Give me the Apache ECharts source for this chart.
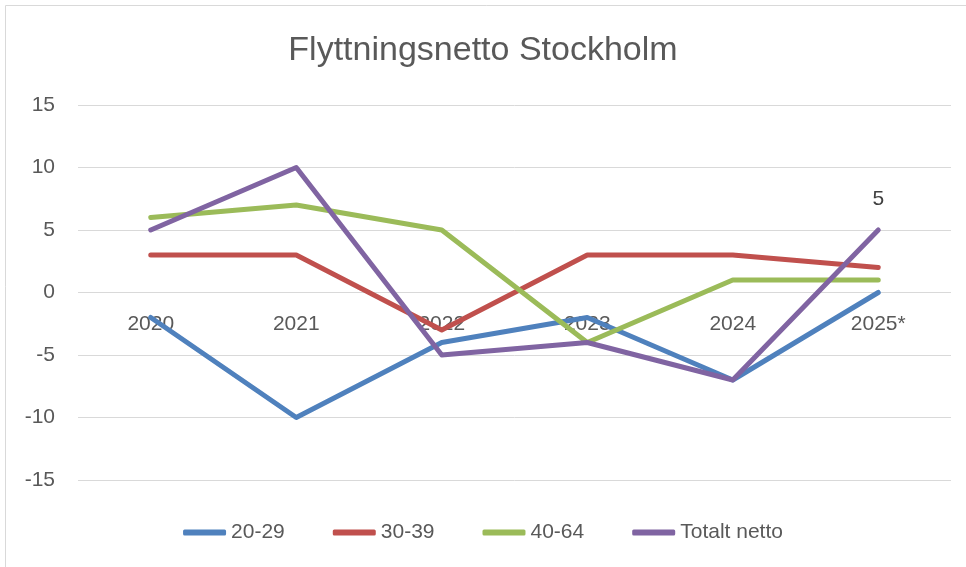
<!DOCTYPE html>
<html>
<head>
<meta charset="utf-8">
<script src="https://cdn.jsdelivr.net/npm/echarts@6/dist/echarts.min.js"></script>
<style>html,body{margin:0;padding:0;background:#fff}#c{width:966px;height:567px}</style>
</head>
<body>
<div id="c"></div>
<script>
var categories = ['2020', '2021', '2022', '2023', '2024', '2025*'];
var s2029 = [-2, -10, -4, -2, -7, 0];
var s3039 = [3, 3, -3, 3, 3, 2];
var s4064 = [6, 7, 5, -4, 1, 1];
var sTotal = [5, 10, -5, -4, -7, 5];
var seriesNames = ['20-29', '30-39', '40-64', 'Totalt netto'];
var colors = ['#4F81BD', '#C0504D', '#9BBB59', '#8064A2'];
var yTicks = {min: -15, max: 15, interval: 5};

var FONT = 'Liberation Sans, Arial, sans-serif';
var chart = echarts.init(document.getElementById('c'), null, {renderer: 'canvas'});

function mk(name, data, color, labelLast) {
  return {
    name: name, type: 'line',
    data: data.map(function (v, i) {
      if (labelLast && i === data.length - 1) {
        return {
          value: v, symbol: 'circle', symbolSize: 2,
          itemStyle: {color: color, borderWidth: 0},
          label: {show: true, position: 'top', distance: 19, fontSize: 21, color: '#404040', fontFamily: FONT}
        };
      }
      return {value: v, symbol: 'none'};
    }),
    showSymbol: true, showAllSymbol: true,
    lineStyle: {width: 5, color: color, cap: 'round', join: 'round'},
    itemStyle: {color: color},
    labelLayout: {hideOverlap: false},
    emphasis: {disabled: true},
    animation: false
  };
}

chart.setOption({
  animation: false,
  title: {
    text: 'Flyttningsnetto Stockholm', left: 'center', top: 34, padding: 0,
    textStyle: {fontFamily: FONT, fontSize: 34, fontWeight: 'normal', color: '#595959'}
  },
  graphic: [{type: 'rect', shape: {x: 5.5, y: 5.5, width: 970, height: 570}, style: {fill: 'none', stroke: '#d9d9d9', lineWidth: 1}, silent: true}],
  legend: {
    data: seriesNames, top: 517, left: 'center',
    icon: 'roundRect', itemWidth: 43, itemHeight: 6, itemGap: 48,
    textStyle: {fontFamily: FONT, fontSize: 21, color: '#595959'}
  },
  grid: {left: 78, right: 15, top: 105, bottom: 87, containLabel: false},
  xAxis: {
    type: 'category', data: categories, boundaryGap: true,
    offset: -187.5,
    axisLine: {show: false, onZero: false},
    axisTick: {show: false},
    axisLabel: {margin: 21, fontFamily: FONT, fontSize: 21, color: '#595959'},
    splitLine: {show: false}
  },
  yAxis: {
    type: 'value', min: yTicks.min, max: yTicks.max, interval: yTicks.interval,
    axisLine: {show: false}, axisTick: {show: false},
    axisLabel: {margin: 23, fontFamily: FONT, fontSize: 21, color: '#595959'},
    splitLine: {show: true, lineStyle: {color: '#d9d9d9', width: 1}}
  },
  series: [
    mk(seriesNames[0], s2029, colors[0]),
    mk(seriesNames[1], s3039, colors[1]),
    mk(seriesNames[2], s4064, colors[2]),
    mk(seriesNames[3], sTotal, colors[3], true)
  ]
});
</script>
</body>
</html>
